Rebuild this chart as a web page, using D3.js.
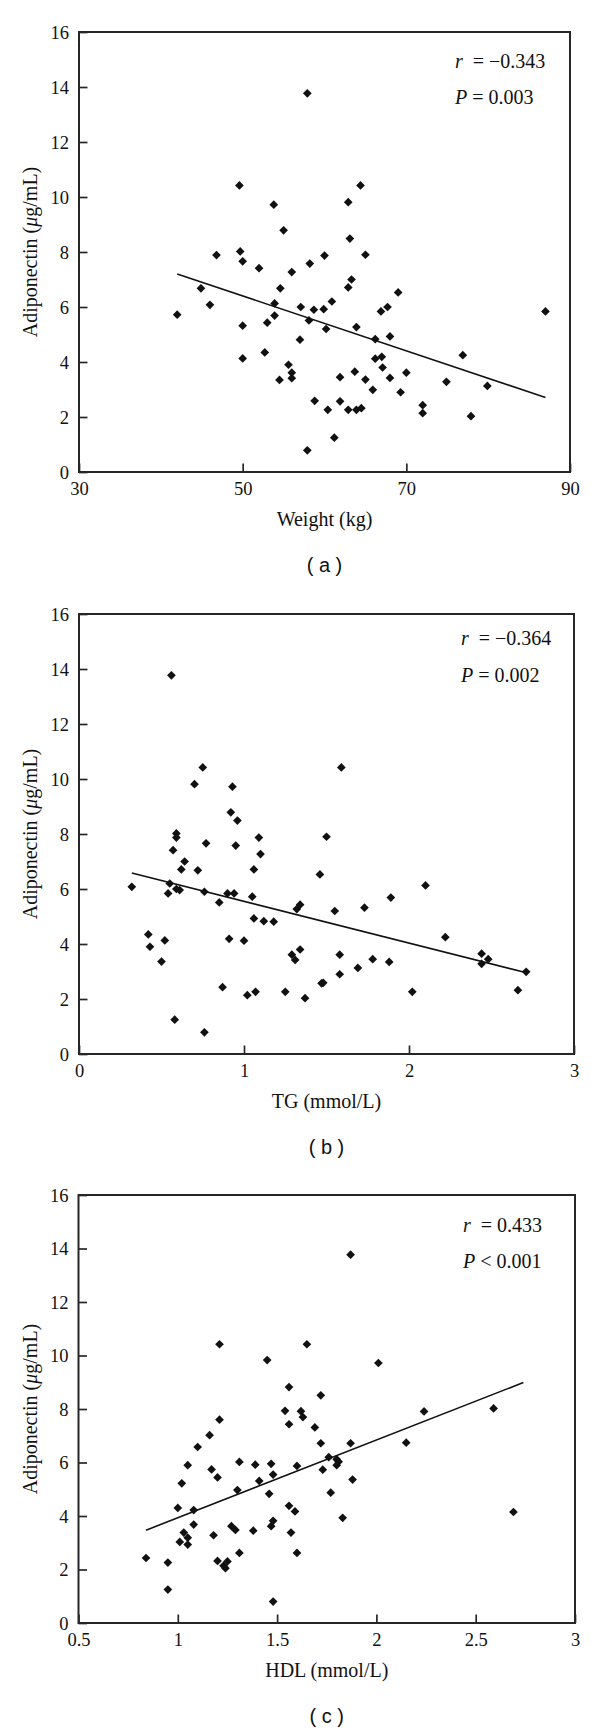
<!DOCTYPE html>
<html>
<head>
<meta charset="utf-8">
<script src="https://cdn.jsdelivr.net/npm/d3@7/dist/d3.min.js"></script>
<style>
  html, body { margin: 0; padding: 0; background: #fff; }
  svg { display: block; }
</style>
</head>
<body>
<svg id="chart" width="600" height="1733"></svg>
<script>
// ---------- DATA ----------
const weightKg = [42.0,44.9,46.0,46.8,49.6,49.7,50.0,50.0,50.0,52.0,52.7,53.0,53.8,53.9,53.9,54.6,54.5,55.0,55.6,56.0,56.0,56.0,57.0,57.1,57.9,58.1,58.2,57.9,58.7,58.8,59.9,60.0,60.2,60.4,60.9,61.2,61.9,61.9,62.9,62.9,63.1,63.3,62.9,63.7,63.9,63.9,64.4,64.5,65.0,65.0,65.9,66.2,66.2,66.9,67.0,67.1,67.7,68.0,68.0,69.0,69.3,70.0,72.0,72.0,74.9,76.9,77.9,79.9,87.0];
const adipoA   = [5.72,6.68,6.08,7.89,10.42,8.02,7.66,5.32,4.13,7.41,4.35,5.43,9.72,6.13,5.69,6.68,3.35,8.79,3.90,7.27,3.61,3.41,4.81,6.00,13.77,5.51,7.58,0.79,5.90,2.59,5.92,7.87,5.20,2.26,6.20,1.25,3.45,2.57,9.81,6.71,8.49,7.00,2.26,3.65,5.27,2.26,10.42,2.32,7.90,3.36,2.99,4.83,4.12,5.84,4.19,3.80,6.00,4.93,3.42,6.53,2.90,3.61,2.43,2.14,3.28,4.25,2.03,3.13,5.84];

const tgMmol = [0.32,0.42,0.43,0.50,0.52,0.54,0.55,0.56,0.57,0.58,0.59,0.59,0.59,0.61,0.62,0.64,0.70,0.72,0.75,0.76,0.76,0.77,0.85,0.87,0.90,0.91,0.92,0.93,0.94,0.95,0.96,1.00,1.02,1.05,1.06,1.06,1.07,1.09,1.10,1.12,1.18,1.25,1.29,1.31,1.32,1.34,1.34,1.37,1.46,1.47,1.48,1.50,1.55,1.58,1.58,1.59,1.69,1.73,1.78,1.88,1.89,2.02,2.10,2.22,2.44,2.44,2.48,2.66,2.71];
const adipoB = [6.08,4.35,3.90,3.36,4.13,5.84,6.20,13.77,7.41,1.25,8.02,7.87,6.00,5.96,6.71,7.00,9.81,6.68,10.42,5.90,0.79,7.66,5.51,2.43,5.84,4.19,8.79,9.72,5.84,7.58,8.49,4.12,2.14,5.72,6.71,4.93,2.26,7.87,7.27,4.83,4.81,2.26,3.61,3.42,5.27,3.80,5.43,2.03,6.53,2.57,2.59,7.90,5.20,3.61,2.90,10.42,3.13,5.32,3.45,3.35,5.69,2.26,6.13,4.25,3.65,3.28,3.45,2.32,2.99];

const hdlMmol = [0.84,0.95,0.95,1.00,1.01,1.02,1.03,1.05,1.05,1.05,1.08,1.08,1.10,1.16,1.17,1.18,1.20,1.20,1.21,1.21,1.23,1.24,1.25,1.27,1.29,1.30,1.31,1.31,1.38,1.39,1.41,1.45,1.46,1.47,1.47,1.48,1.48,1.48,1.54,1.56,1.56,1.56,1.57,1.59,1.60,1.60,1.62,1.63,1.65,1.69,1.72,1.72,1.73,1.76,1.77,1.80,1.80,1.81,1.83,1.87,1.87,1.88,2.01,2.15,2.24,2.59,2.69];
const adipoC  = [2.43,2.26,1.25,4.30,3.03,5.22,3.38,5.90,3.19,2.93,3.68,4.22,6.58,7.02,5.74,3.28,5.44,2.32,7.60,10.42,2.14,2.05,2.30,3.62,3.48,4.97,6.02,2.62,3.45,5.92,5.31,9.83,4.83,5.95,3.62,5.55,3.82,0.80,7.93,8.82,7.43,4.38,3.38,4.17,2.62,5.87,7.92,7.70,10.42,7.31,8.51,6.72,5.73,6.20,4.87,6.12,5.90,6.03,3.93,13.77,6.72,5.36,9.72,6.74,7.91,8.02,4.15];

// regression lines (end points)
const fitAx = [42, 87],     fitAy = [7.20, 2.71];
const fitBx = [0.32, 2.70], fitBy = [6.58, 2.97];
const fitCx = [0.84, 2.74], fitCy = [3.47, 8.99];

// axes / ticks
const yTicks  = [0, 2, 4, 6, 8, 10, 12, 14, 16];
const xTicksA = [30, 50, 70, 90];
const xTicksB = [0, 1, 2, 3];
const xTicksC = [0.5, 1, 1.5, 2, 2.5, 3];

// texts
const xTitles     = ["Weight (kg)", "TG (mmol/L)", "HDL (mmol/L)"];
const panelLabels = ["( a )", "( b )", "( c )"];
const rValues     = ["\u22120.343", "\u22120.364", "0.433"];
const pRelations  = ["=", "=", "<"];
const pValues     = ["0.003", "0.002", "0.001"];

// ---------- DRAW ----------
const svg = d3.select("#chart");
const SERIF = "'Liberation Serif', 'Times New Roman', serif";
const SANS  = "'Liberation Sans', Arial, sans-serif";
const INK = "#111";
const FRAME = "#262626";

const panels = [
  { x: weightKg, y: adipoA, fx: fitAx, fy: fitAy, xDom: [30, 90], xTicks: xTicksA,
    box: { l: 79, r: 570, t: 32, b: 472 }, statX: 455, rDy: 36, pDy: 72 },
  { x: tgMmol, y: adipoB, fx: fitBx, fy: fitBy, xDom: [0, 3], xTicks: xTicksB,
    box: { l: 79, r: 574, t: 614, b: 1054 }, statX: 461, rDy: 31, pDy: 67.5 },
  { x: hdlMmol, y: adipoC, fx: fitCx, fy: fitCy, xDom: [0.5, 3], xTicks: xTicksC,
    box: { l: 78.5, r: 575, t: 1195, b: 1623 }, statX: 463, rDy: 37, pDy: 73 }
];

const diamond = d3.symbol().type(d3.symbolSquare).size(38);

panels.forEach((p, i) => {
  const B = p.box;
  const xs = d3.scaleLinear().domain(p.xDom).range([B.l, B.r]);
  const ys = d3.scaleLinear().domain([0, 16]).range([B.b, B.t]);
  const g = svg.append("g");

  // points
  g.append("g").selectAll("path")
    .data(p.x.map((v, k) => [v, p.y[k]]))
    .join("path")
    .attr("d", diamond)
    .attr("transform", d => `translate(${xs(d[0])},${ys(d[1])}) rotate(45)`)
    .attr("fill", INK);

  // regression line
  g.append("path")
    .datum(p.fx.map((v, k) => [v, p.fy[k]]))
    .attr("d", d3.line().x(d => xs(d[0])).y(d => ys(d[1])))
    .attr("fill", "none")
    .attr("stroke", INK)
    .attr("stroke-width", 1.6);

  // y axis (inward ticks)
  const yAx = g.append("g").attr("transform", `translate(${B.l},0)`)
    .call(d3.axisRight(ys).tickValues(yTicks).tickSize(8.5).tickFormat(d3.format("d")));
  yAx.select(".domain").remove();
  yAx.selectAll(".tick line").attr("stroke", FRAME).attr("stroke-width", 1.7);
  yAx.selectAll(".tick text")
    .attr("x", -10).attr("text-anchor", "end").attr("dy", "0.33em")
    .attr("font-family", SERIF).attr("font-size", 18.5).attr("fill", INK);

  // x axis (inward ticks)
  const xAx = g.append("g").attr("transform", `translate(0,${B.b})`)
    .call(d3.axisTop(xs).tickValues(p.xTicks).tickSize(8.5).tickFormat(d => String(d)));
  xAx.select(".domain").remove();
  xAx.selectAll(".tick line").attr("stroke", FRAME).attr("stroke-width", 1.7);
  xAx.selectAll(".tick text")
    .attr("y", 22.5).attr("dy", 0).attr("text-anchor", "middle")
    .attr("font-family", SERIF).attr("font-size", 18.5).attr("fill", INK);

  // frame
  g.append("rect")
    .attr("x", B.l).attr("y", B.t)
    .attr("width", B.r - B.l).attr("height", B.b - B.t)
    .attr("fill", "none").attr("stroke", FRAME).attr("stroke-width", 2);

  // x title
  g.append("text")
    .attr("x", (B.l + B.r) / 2).attr("y", B.b + 53.5)
    .attr("text-anchor", "middle")
    .attr("font-family", SERIF).attr("font-size", 20).attr("fill", INK)
    .text(xTitles[i]);

  // y title
  const yt = g.append("text")
    .attr("transform", `translate(37,${(B.t + B.b) / 2}) rotate(-90)`)
    .attr("text-anchor", "middle")
    .attr("font-family", SERIF).attr("font-size", 20).attr("fill", INK);
  yt.append("tspan").text("Adiponectin (");
  yt.append("tspan").attr("font-style", "italic").text("\u03bc");
  yt.append("tspan").text("g/mL)");

  // stats
  const rt = g.append("text")
    .attr("x", p.statX).attr("y", B.t + p.rDy)
    .attr("font-family", SERIF).attr("font-size", 20).attr("fill", INK)
    .style("white-space", "pre");
  rt.append("tspan").attr("font-style", "italic").text("r");
  rt.append("tspan").text("  = " + rValues[i]);

  const pt = g.append("text")
    .attr("x", p.statX).attr("y", B.t + p.pDy)
    .attr("font-family", SERIF).attr("font-size", 20).attr("fill", INK)
    .style("white-space", "pre");
  pt.append("tspan").attr("font-style", "italic").text("P");
  pt.append("tspan").text(" " + pRelations[i] + " " + pValues[i]);

  // panel label
  g.append("text")
    .attr("x", (B.l + B.r) / 2).attr("y", B.b + 100)
    .attr("text-anchor", "middle")
    .attr("font-family", SANS).attr("font-size", 20).attr("fill", INK)
    .style("white-space", "pre")
    .text(panelLabels[i]);
});
</script>
</body>
</html>
